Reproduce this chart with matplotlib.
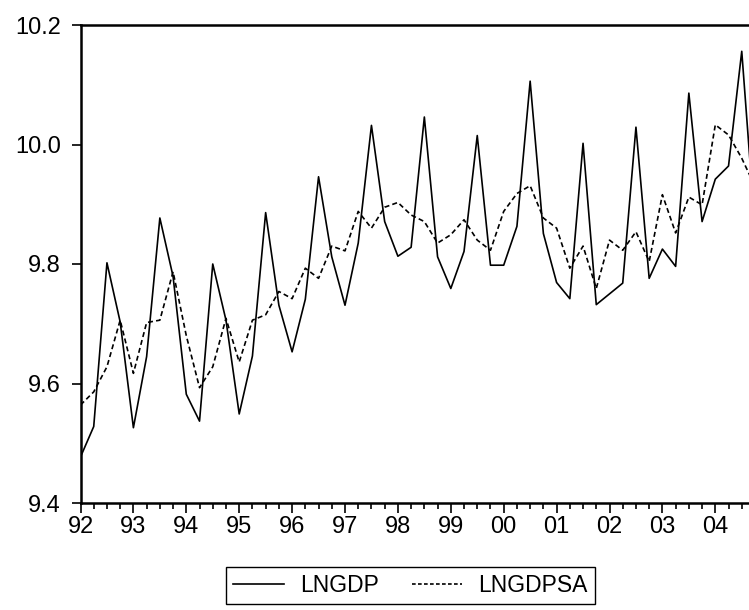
import numpy as np
import matplotlib
matplotlib.use('Agg')
import matplotlib.pyplot as plt
from matplotlib.ticker import FixedLocator, MultipleLocator, FuncFormatter

# quarterly data, 1992Q1 .. 2004Q4
start_year = 1992
lngdp = [9.477, 9.528, 9.802, 9.703, 9.526, 9.645, 9.877, 9.779,
         9.582, 9.537, 9.800, 9.706, 9.549, 9.646, 9.886, 9.731,
         9.653, 9.741, 9.946, 9.812, 9.731, 9.835, 10.032, 9.871,
         9.813, 9.828, 10.046, 9.812, 9.759, 9.821, 10.015, 9.798,
         9.798, 9.863, 10.106, 9.851, 9.769, 9.742, 10.002, 9.732,
         9.750, 9.768, 10.029, 9.776, 9.825, 9.796, 10.086, 9.871,
         9.942, 9.964, 10.156, 9.860]
lngdpsa = [9.564, 9.586, 9.628, 9.706, 9.617, 9.702, 9.706, 9.787,
           9.680, 9.593, 9.628, 9.709, 9.636, 9.706, 9.715, 9.754,
           9.742, 9.793, 9.776, 9.830, 9.822, 9.888, 9.860, 9.895,
           9.903, 9.882, 9.871, 9.835, 9.849, 9.874, 9.840, 9.823,
           9.888, 9.918, 9.931, 9.877, 9.860, 9.793, 9.830, 9.759,
           9.840, 9.823, 9.854, 9.804, 9.916, 9.852, 9.912, 9.899,
           10.033, 10.016, 9.977, 9.930]
years = list(range(1992, 2005))
yticks = [9.4, 9.6, 9.8, 10.0, 10.2]

plt.rcParams['font.family'] = ['Liberation Sans', 'DejaVu Sans']

t = start_year + np.arange(len(lngdp)) / 4.0

W, H = 749, 610
fig = plt.figure(figsize=(W / 100, H / 100), dpi=100)
left, top, bottom = 80.5, 25, 503
ax = fig.add_axes([left / W, 1 - bottom / H, (W - left) / W, (bottom - top) / H])

ax.plot(t, lngdp, color='black', lw=1.2, label='LNGDP')
ax.plot(t, lngdpsa, color='black', lw=1.2, dashes=(3.0, 1.9), label='LNGDPSA')

ax.set_xlim(1992, 1992 + (W - left) / 52.9)
ax.set_ylim(9.4, 10.2)

ax.xaxis.set_major_locator(FixedLocator(years))
ax.xaxis.set_minor_locator(MultipleLocator(0.25))
ax.xaxis.set_major_formatter(FuncFormatter(lambda v, p: f'{int(round(v)) % 100:02d}'))
ax.set_yticks(yticks)
ax.yaxis.set_major_formatter(FuncFormatter(lambda v, p: f'{v:.1f}'))

ax.tick_params(axis='x', which='major', direction='out', length=7.2, width=1.2,
               labelsize=17, pad=2.5)
ax.tick_params(axis='x', which='minor', direction='out', length=4.5, width=1.2)
ax.tick_params(axis='y', which='major', direction='out', length=6.5, width=1.2,
               labelsize=17, pad=7.5)

for side in ['left', 'bottom', 'top']:
    ax.spines[side].set_linewidth(1.8)
ax.spines['right'].set_visible(False)

leg = fig.legend(loc='center', bbox_to_anchor=(410.5 / W, 1 - 585.5 / H), ncol=2,
                 fontsize=16.5, frameon=True, fancybox=False, framealpha=1,
                 edgecolor='black', handlelength=2.2, handletextpad=0.7,
                 columnspacing=1.45, borderpad=0.3, borderaxespad=0)
leg.get_frame().set_linewidth(1.0)
leg.get_lines()[1].set_dashes((2.2, 1.4))

fig.savefig('out.png', dpi=100)
